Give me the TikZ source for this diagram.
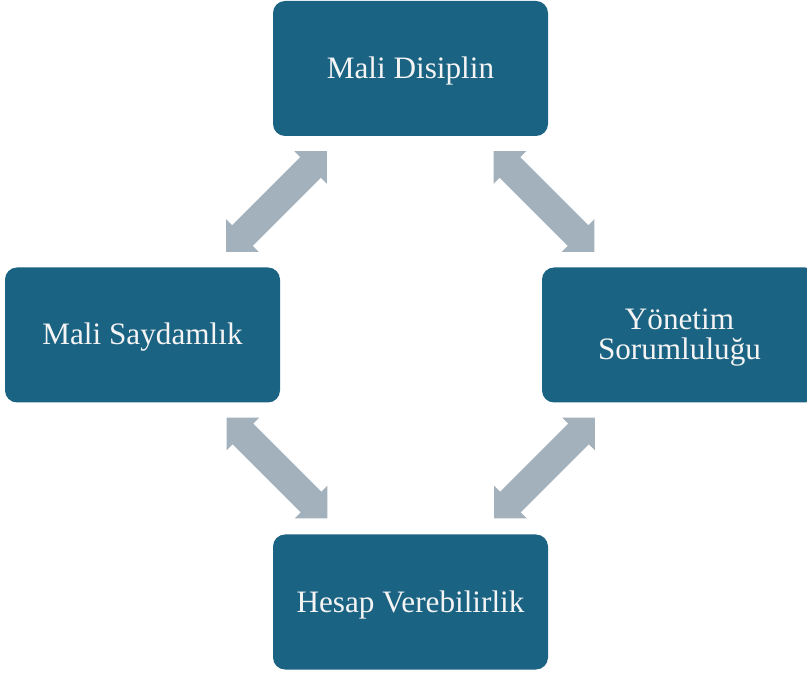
\documentclass[tikz,border=0pt]{standalone}
\usepackage{fontspec}
\setmainfont{Liberation Serif}
\definecolor{boxblue}{HTML}{1B6382}
\definecolor{arrowgray}{HTML}{A2B1BC}
\definecolor{textwhite}{HTML}{F4F4F4}
\begin{document}
\begin{tikzpicture}[x=1pt,y=1pt,
  box/.style={fill=boxblue, rounded corners=12pt, minimum width=275pt, minimum height=135pt, inner sep=0pt},
  label/.style={text=textwhite, align=center, inner sep=0pt, yshift=-2.5pt,
    font=\fontsize{31.2}{30}\selectfont},
  bidi/.pic={\fill[arrowgray] (-71.4,0) -- (-48.1,23.3) -- (-48.1,14.6) -- (48.1,14.6) -- (48.1,23.3)
     -- (71.4,0) -- (48.1,-23.3) -- (48.1,-14.6) -- (-48.1,-14.6) -- (-48.1,-23.3) -- cycle;}]
\useasboundingbox (0,0) rectangle (807,673);
\node[box] (disiplin) at (410.5,604.5) {};
\node[box] (saydamlik) at (142.5,338) {};
\node[box] (yonetim) at (679.5,338) {};
\node[box] (hesap) at (410.5,71) {};
\node[label] (disiplinT) at (disiplin) {Mali Disiplin};
\node[label] (saydamlikT) at (saydamlik) {Mali Saydaml\i k};
\node[label] (yonetimT) at (yonetim) {Yönetim\\Sorumluluğu};
\node[label] (hesapT) at (hesap) {Hesap Verebilirlik};
\pic[rotate=45] at (276.5,471.5) {bidi};
\pic[rotate=-45] at (544,471.5) {bidi};
\pic[rotate=-45] at (277,205) {bidi};
\pic[rotate=45] at (544.5,205) {bidi};
\end{tikzpicture}
\end{document}
